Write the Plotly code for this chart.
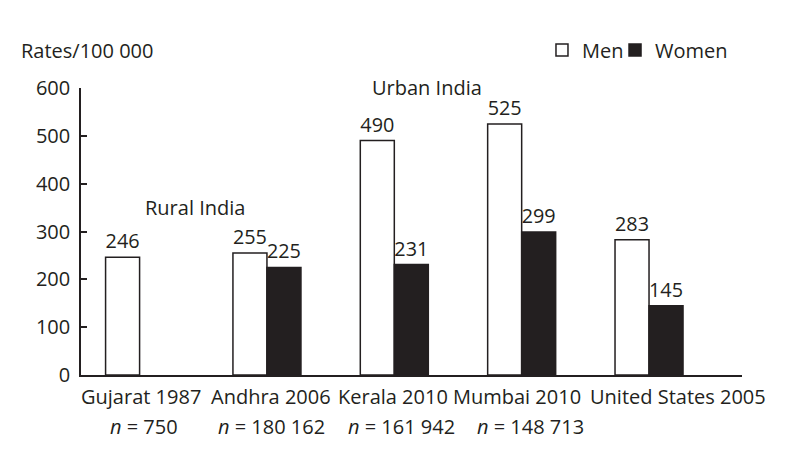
import plotly.graph_objects as go

categories = ["Gujarat 1987", "Andhra 2006", "Kerala 2010", "Mumbai 2010", "United States 2005"]
men = [246, 255, 490, 525, 283]
women = [None, 225, 231, 299, 145]
sample_sizes = ["<i>n</i> = 750", "<i>n</i> = 180 162", "<i>n</i> = 161 942", "<i>n</i> = 148 713", ""]
y_ticks = [0, 100, 200, 300, 400, 500, 600]

FONT = "Open Sans, Noto Sans, DejaVu Sans, sans-serif"
FS = 20
INK = "#231f20"

fig = go.Figure()
fig.add_trace(go.Bar(
    x=categories, y=men, name="Men", legend="legend",
    marker=dict(color="white", line=dict(color=INK, width=1.5)),
    text=[str(v) for v in men], textposition="outside", cliponaxis=False,
    textfont=dict(family=FONT, size=FS, color=INK),
))
fig.add_trace(go.Bar(
    x=categories, y=women, name="Women", legend="legend2",
    marker=dict(color=INK, line=dict(color=INK, width=1.5)),
    text=["" if v is None else str(v) for v in women], textposition="outside", cliponaxis=False,
    textfont=dict(family=FONT, size=FS, color=INK),
))

# category labels (laid out as one continuous line like the original)
label_shift = [1, 4, -1, -5, 29]
for cat, dx in zip(categories, label_shift):
    fig.add_annotation(x=cat, y=0, xref="x", yref="y", text=cat, showarrow=False,
                       xanchor="center", yanchor="top", yshift=-6, xshift=dx,
                       font=dict(family=FONT, size=FS, color=INK))
n_shift = [4, 5, 7, 9, 0]
for cat, txt, dx in zip(categories, sample_sizes, n_shift):
    if txt:
        fig.add_annotation(x=cat, y=0, xref="x", yref="y", text=txt, showarrow=False,
                           xanchor="center", yanchor="top", yshift=-36, xshift=dx,
                           font=dict(family=FONT, size=FS, color=INK))

fig.add_annotation(x=0.172, y=0.582, xref="paper", yref="paper", text="Rural India", showarrow=False,
                   xanchor="center", yanchor="middle",
                   font=dict(family=FONT, size=FS, color=INK))
fig.add_annotation(x=0.523, y=1.003, xref="paper", yref="paper", text="Urban India", showarrow=False,
                   xanchor="center", yanchor="middle",
                   font=dict(family=FONT, size=FS, color=INK))
fig.add_annotation(x=-0.0938, y=1.132, xref="paper", yref="paper", text="Rates/100 000",
                   showarrow=False, xanchor="left", yanchor="middle",
                   font=dict(family=FONT, size=FS, color=INK))

legend_style = dict(orientation="h", xanchor="left", y=1.132, yanchor="middle",
                    font=dict(family=FONT, size=FS, color=INK),
                    itemwidth=30, bgcolor="rgba(0,0,0,0)")

fig.update_layout(
    width=787, height=460,
    margin=dict(l=81, r=45, t=88, b=85),
    paper_bgcolor="white", plot_bgcolor="white",
    barmode="group", bargap=0.466, bargroupgap=0,
    font=dict(family=FONT, size=FS, color=INK),
    showlegend=True,
    legend=dict(x=0.6974, **legend_style),
    legend2=dict(x=0.8079, **legend_style),
    xaxis=dict(type="category", range=[-0.46, 4.73], showticklabels=False, ticks="",
               showline=True, linecolor=INK, linewidth=1.5, showgrid=False, zeroline=False),
    yaxis=dict(range=[0, 600], tickvals=y_ticks, ticks="inside", ticklen=6, tickwidth=1.5,
               tickcolor=INK, showline=True, linecolor=INK, linewidth=1.5,
               showgrid=False, zeroline=False, ticklabelstandoff=5,
               tickfont=dict(family=FONT, size=FS, color=INK)),
)

fig.write_html("out.html", config={"displayModeBar": False},
               post_script="document.body.style.margin='0px';")
